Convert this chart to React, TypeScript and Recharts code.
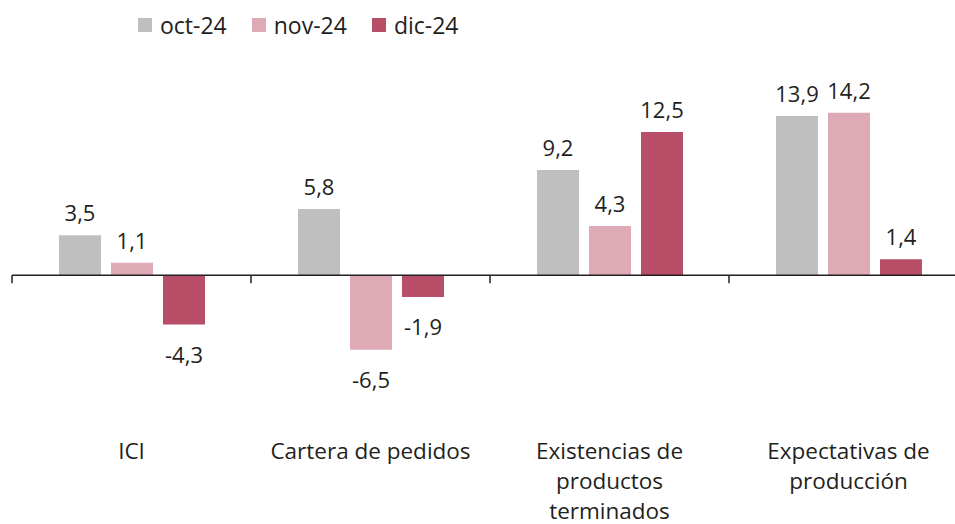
import React from 'react';
import { BarChart, Bar, XAxis, YAxis, ReferenceLine, LabelList } from 'recharts';

const categories = ['ICI', 'Cartera de pedidos', 'Existencias de productos terminados', 'Expectativas de producción'];
const categoryLines = [['ICI'], ['Cartera de pedidos'], ['Existencias de', 'productos', 'terminados'], ['Expectativas de', 'producción']];
const oct24 = [3.5, 5.8, 9.2, 13.9];
const nov24 = [1.1, -6.5, 4.3, 14.2];
const dic24 = [-4.3, -1.9, 12.5, 1.4];

const series = [
  { key: 'oct', name: 'oct-24', color: '#BFBFBF' },
  { key: 'nov', name: 'nov-24', color: '#DDAAB5' },
  { key: 'dic', name: 'dic-24', color: '#B94E69' },
];

const data = categories.map((c, i) => ({ name: c, oct: oct24[i], nov: nov24[i], dic: dic24[i] }));

const W = 970;
const H = 524;
const M = { top: 92, right: 2, left: 12, bottom: 127 };
const X_AXIS_H = 30;
const Y_MIN = -8;
const Y_MAX = 16;
const PLOT_H = H - M.top - M.bottom - X_AXIS_H;
const PLOT_W = W - M.left - M.right;
const ZERO_Y = M.top + (Y_MAX / (Y_MAX - Y_MIN)) * PLOT_H;
const BAND = PLOT_W / categories.length;

const FONT = '"Open Sans", sans-serif';
const TEXT = '#231F20';

const fmt = (v: number) => v.toFixed(1).replace('.', ',');

const ValueLabel = (props: any) => {
  const { x, y, width, height, value } = props;
  const top = Math.min(y, y + height);
  const bottom = Math.max(y, y + height);
  const ly = value >= 0 ? top - 23 : bottom + 29;
  return (
    <text x={x + width / 2} y={ly} textAnchor="middle" dominantBaseline="central"
      fontFamily={FONT} fontSize={22} fill={TEXT}>
      {fmt(value)}
    </text>
  );
};

const CategoryTick = (props: any) => {
  const { x, index } = props;
  const lines = categoryLines[index] || [];
  const left = x - BAND / 2;
  return (
    <g>
      <line x1={left} x2={left} y1={ZERO_Y} y2={ZERO_Y + 8} stroke={TEXT} strokeWidth={1.5} />
      {index === categories.length - 1 && (
        <line x1={x + BAND / 2} x2={x + BAND / 2} y1={ZERO_Y} y2={ZERO_Y + 8} stroke={TEXT} strokeWidth={1.5} />
      )}
      {lines.map((l, i) => (
        <text key={i} x={x} y={450 + i * 30} textAnchor="middle" dominantBaseline="central"
          fontFamily={FONT} fontSize={22.5} fill={TEXT}>
          {l}
        </text>
      ))}
    </g>
  );
};

export default function App() {
  return (
    <div style={{ position: 'absolute', left: 0, top: 0, width: 955, height: 524, overflow: 'hidden', background: '#fff' }}>
      <div style={{ position: 'absolute', left: 138, top: 9, display: 'flex', alignItems: 'center', fontFamily: FONT, fontSize: 23, color: TEXT }}>
        {series.map((s) => (
          <div key={s.key} style={{ display: 'flex', alignItems: 'center', marginRight: 25 }}>
            <span style={{ display: 'inline-block', width: 14, height: 14, background: s.color, marginRight: 8 }} />
            <span>{s.name}</span>
          </div>
        ))}
      </div>
      <BarChart width={W} height={H} data={data} margin={M} barSize={42} barGap={10}>
        <XAxis dataKey="name" axisLine={false} tickLine={false} height={X_AXIS_H} tick={<CategoryTick />} interval={0} />
        <YAxis hide domain={[Y_MIN, Y_MAX]} />
        <ReferenceLine y={0} stroke={TEXT} strokeWidth={1.5} />
        {series.map((s) => (
          <Bar key={s.key} dataKey={s.key} name={s.name} fill={s.color} isAnimationActive={false}>
            <LabelList dataKey={s.key} content={<ValueLabel />} />
          </Bar>
        ))}
      </BarChart>
    </div>
  );
}
